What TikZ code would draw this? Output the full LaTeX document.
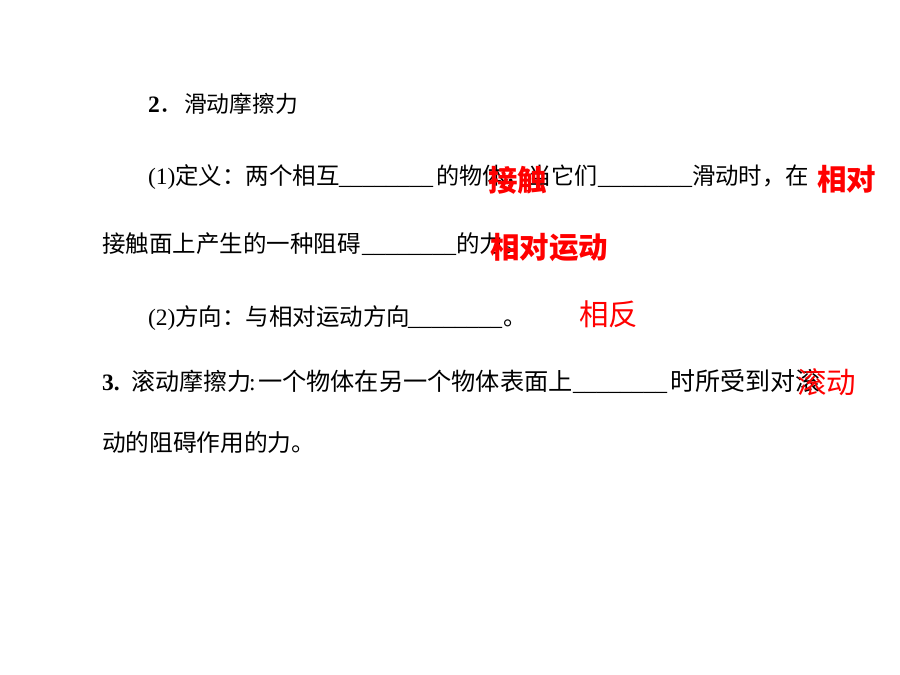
\documentclass[tikz,border=0pt]{standalone}
\usepackage{fontspec}
\setmainfont{Liberation Serif}
\newfontfamily\cjk{Noto Sans CJK SC}
\begin{document}
\begin{tikzpicture}[x=1pt,y=-1pt,
  txt/.style={anchor=base west, inner sep=0pt, outer sep=0pt, font=\fontsize{#1}{#1}\selectfont\cjk},
  txt/.default=23.5,
  blank/.style={anchor=base west, inner sep=0pt, outer sep=0pt, font=\fontsize{23.5}{23.5}\selectfont\rmfamily},
  ans/.style={anchor=base west, inner sep=0pt, outer sep=0pt, text=red, font=\fontsize{29.5}{29.5}\selectfont\cjk},
  ansb/.style={anchor=base west, inner sep=0pt, outer sep=0pt, text=red, font=\fontsize{29.5}{29.5}\selectfont\cjk\bfseries}]
\useasboundingbox[fill=white] (0,0) rectangle (900,675);
% line 1
\node[txt] (h2) at (148,112) {{\rmfamily\bfseries 2}．};
\node[txt=22.8] (h2t) at (184,112) {滑动摩擦力};
% line 2
\node[txt] (l2a) at (148,184) {{\rmfamily (1)}定义：两个相互};
\node[blank] (l2b) at (339,184) {\_\_\_\_\_\_\_\_};
\node[txt=23.1] (l2c) at (436,184) {的物体，当它们};
\node[blank] (l2d) at (598,184) {\_\_\_\_\_\_\_\_};
\node[txt=23.4] (l2e) at (692,184) {滑动时，在};
% line 3
\node[txt] (l3a) at (102,252) {接触面上产生的一种阻碍};
\node[blank] (l3b) at (362,252) {\_\_\_\_\_\_\_\_};
\node[txt] (l3c) at (456,252) {的力。};
% line 4
\node[txt] (l4a) at (148,325) {{\rmfamily (2)}方向：与相对运动方向};
\node[blank] (l4b) at (408,325) {\_\_\_\_\_\_\_\_};
\node[txt] (l4c) at (503,325) {。};
% line 5
\node[blank] (l5a) at (102,390) {\bfseries 3.};
\node[txt=24] (l5b) at (131,390) {滚动摩擦力};
\node[blank] (l5c) at (249,390) {:};
\node[txt=24.2] (l5d) at (258,390) {一个物体在另一个物体表面上};
\node[blank] (l5e) at (573,390) {\_\_\_\_\_\_\_\_};
\node[txt=25] (l5f) at (670,390) {时所受到对滚};
% line 6
\node[txt=23.7] (l6) at (102,451) {动的阻碍作用的力。};
% answers
\node[ansb] (a1) at (488,191) {接触};
\node[ansb] (a2) at (817,190) {相对};
\node[ansb] (a3) at (490,258) {相对运动};
\node[ans] (a4) at (579,325) {相反};
\node[ans] (a5) at (797,393) {滚动};
\end{tikzpicture}
\end{document}
